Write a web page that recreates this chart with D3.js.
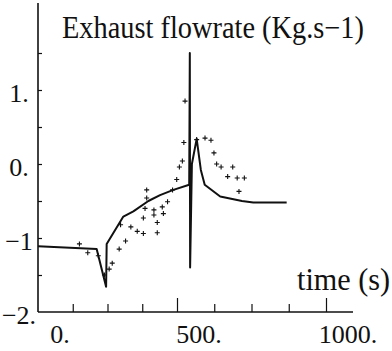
<!DOCTYPE html>
<html>
<head>
<meta charset="utf-8">
<script src="https://cdn.jsdelivr.net/npm/d3@7"></script>
<style>
  body { margin: 0; background: #fff; }
  text { font-family: "Liberation Serif", "DejaVu Serif", serif; fill: #111; }
</style>
</head>
<body>
<div id="chart"></div>
<script>
const width = 392, height = 351;

// model curve (time s, flowrate Kg/s)
const modelT = [0, 211, 245, 247, 307, 343, 397, 439, 487, 541, 543, 544, 550, 566, 580, 593, 645, 718, 756, 868];
const modelV = [-1.11, -1.15, -1.66, -1.08, -0.71, -0.64, -0.50, -0.42, -0.35, -0.28, 1.50, -1.40, 0.0, 0.34, -0.08, -0.28, -0.44, -0.50, -0.52, -0.52];

// measured points
const measT = [149, 179, 217, 239, 256, 267, 292, 297, 315, 334, 357, 379, 379, 385, 391, 391, 417, 417, 429, 429, 447, 451, 466, 484, 499, 508, 518, 523, 527, 566, 594, 614, 624, 633, 648, 670, 687, 702, 708, 726];
const measV = [-1.08, -1.20, -1.24, -1.50, -1.42, -1.34, -1.15, -0.82, -1.04, -0.85, -0.91, -0.94, -0.73, -0.60, -0.35, -0.46, -0.62, -0.69, -0.79, -0.93, -0.58, -0.67, -0.51, -0.35, -0.21, -0.04, 0.04, 0.29, 0.85, 0.33, 0.35, 0.32, 0.15, 0.0, -0.04, -0.17, -0.04, -0.19, -0.37, -0.19];

const xTicks = [125, 250, 375, 500, 625, 750, 875, 1000];
const xMajor = [500, 1000];
const xLabels = ["0.", "500.", "1000."];
const xLabelVals = [0, 500, 1000];
const yTicks = [-1.5, -1, -0.5, 0, 0.5, 1, 1.5];
const yLabels = ["1.", "0.", "−1", "−2."];
const yLabelVals = [1, 0, -1, -2];

const titleText = "Exhaust flowrate (Kg.s−1)";
const xTitle = "time (s)";

// scanned axis is slightly uneven, so a piecewise scale
const x = d3.scaleLinear().domain([0, 500, 1000]).range([38, 177, 326]);
const y = d3.scaleLinear().domain([-2, 1]).range([312, 90]);

const svg = d3.select("#chart").append("svg")
    .attr("width", width)
    .attr("height", height);

// axis lines
svg.append("line")
    .attr("x1", x(0)).attr("x2", x(0))
    .attr("y1", 3).attr("y2", y(-2))
    .attr("stroke", "#111").attr("stroke-width", 1.6);
svg.append("line")
    .attr("x1", x(0)).attr("x2", 353)
    .attr("y1", y(-2)).attr("y2", y(-2))
    .attr("stroke", "#111").attr("stroke-width", 1.6);

// x ticks (pointing up)
svg.append("g")
    .attr("transform", `translate(0,${y(-2)})`)
    .call(d3.axisBottom(x).tickValues(xTicks).tickFormat("").tickSize(0))
    .call(g => g.select(".domain").remove())
    .call(g => g.selectAll(".tick line")
        .attr("y2", d => xMajor.includes(d) ? -14 : -8)
        .attr("stroke", "#111").attr("stroke-width", 1.2));

// y ticks (pointing right)
svg.append("g")
    .attr("transform", `translate(${x(0)},0)`)
    .call(d3.axisLeft(y).tickValues(yTicks).tickFormat("").tickSize(-4))
    .call(g => g.select(".domain").remove())
    .call(g => g.selectAll(".tick line").attr("stroke", "#111").attr("stroke-width", 1.2));

// tick labels
svg.append("g").selectAll("text")
    .data(xLabelVals)
    .enter().append("text")
    .attr("x", d => x(d) + 22)
    .attr("y", 343)
    .attr("text-anchor", "middle")
    .attr("font-size", 26)
    .text((d, i) => xLabels[i]);

svg.append("g").selectAll("text")
    .data(yLabelVals)
    .enter().append("text")
    .attr("x", 19)
    .attr("y", d => y(d) + 12)
    .attr("text-anchor", "middle")
    .attr("font-size", 26)
    .text((d, i) => yLabels[i]);

// titles
svg.append("text")
    .attr("x", 62).attr("y", 38)
    .attr("font-size", 31)
    .attr("textLength", 302)
    .attr("lengthAdjust", "spacingAndGlyphs")
    .text(titleText);

svg.append("text")
    .attr("x", 297).attr("y", 290)
    .attr("font-size", 31)
    .attr("textLength", 93)
    .attr("lengthAdjust", "spacingAndGlyphs")
    .text(xTitle);

// model line
const line = d3.line()
    .x(i => x(modelT[i]))
    .y(i => y(modelV[i]));

svg.append("path")
    .datum(d3.range(modelT.length))
    .attr("d", line)
    .attr("fill", "none")
    .attr("stroke", "#111")
    .attr("stroke-width", 2)
    .attr("stroke-linejoin", "round");

// measurement crosses
svg.append("g").selectAll("path")
    .data(d3.range(measT.length))
    .enter().append("path")
    .attr("transform", i => `translate(${x(measT[i])},${y(measV[i])})`)
    .attr("d", "M-2.5,0H2.5M0,-2.5V2.5")
    .attr("stroke", "#111")
    .attr("stroke-width", 1.1);
</script>
</body>
</html>
